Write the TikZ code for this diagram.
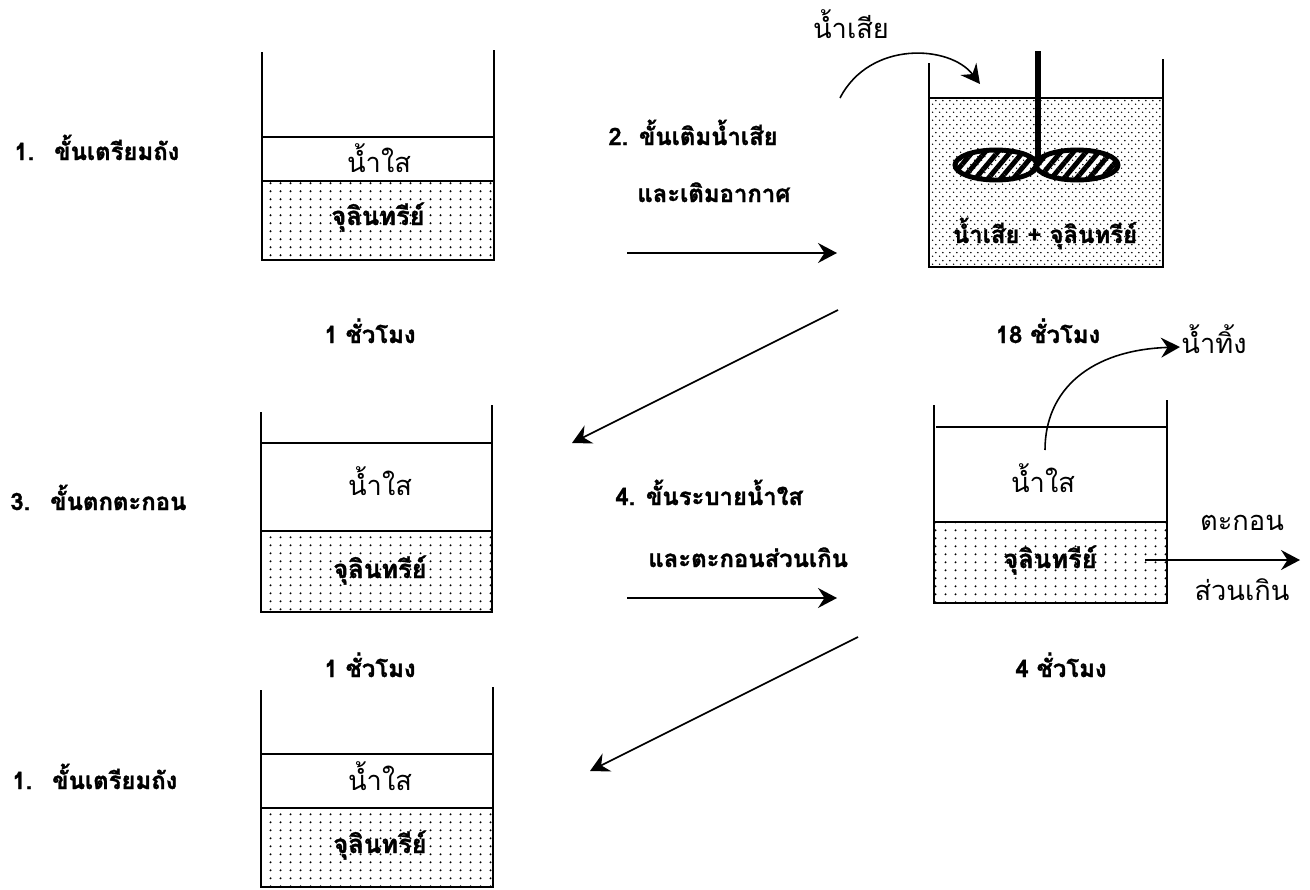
\documentclass[tikz,border=0pt]{standalone}
\usepackage{fontspec}
\setmainfont{Loma}[Script=Thai, BoldFeatures={FakeBold=1.3}]
\usetikzlibrary{arrows.meta,patterns,patterns.meta}

\pgfdeclarepatternformonly{sludgedots}{\pgfpointorigin}{\pgfpoint{1.9mm}{1.54mm}}{\pgfpoint{1.9mm}{1.54mm}}{%
  \pgfpathcircle{\pgfpoint{0.95mm}{0.77mm}}{0.62pt}\pgfusepath{fill}}
\pgfdeclarepatternformonly{mixdots}{\pgfpointorigin}{\pgfpoint{1.34mm}{1.6mm}}{\pgfpoint{1.34mm}{1.6mm}}{%
  \pgfpathcircle{\pgfpoint{0.335mm}{0.4mm}}{0.5pt}%
  \pgfpathcircle{\pgfpoint{1.005mm}{1.2mm}}{0.5pt}\pgfusepath{fill}}

\tikzset{
  wall/.style={line width=1pt},
  layer/.style={line width=1pt},
  sludge/.style={line width=1pt, pattern=sludgedots, pattern color=black},
  mix/.style={pattern=mixdots, pattern color=black},
  arr/.style={line width=0.9pt, -{Stealth[length=3.8mm,width=4mm,inset=1.3mm]}},
  lab/.style={inner sep=0pt, font=\fontsize{13.6}{16}\selectfont\bfseries},
  tlab/.style={inner sep=0pt, font=\fontsize{14.5}{17}\selectfont\bfseries},
  txt/.style={inner sep=0pt, font=\fontsize{15.5}{18}\selectfont},
  paddle/.style={line width=2.8pt, pattern={Lines[angle=50,distance=5.5pt,line width=2.8pt]}}
}

\begin{document}
\begin{tikzpicture}[x=0.2mm, y=-0.2mm]
\useasboundingbox (0,0) rectangle (1310,890);

% ---------- Tank 1 (top left) ----------
\draw[layer] (262,137) rectangle (494,181);
\draw[sludge] (262,181) rectangle (494,260);
\draw[wall] (262,52) -- (262,260) -- (494,260) -- (494,50);
\node[txt, anchor=base] (t1w) at (379,172) {น้ำใส};
\node[tlab, anchor=base] (t1s) at (378,225) {จุลินทรีย์};

% ---------- Tank 2 (top right, mixer) ----------
\path[mix] (929,98) rectangle (1163,267);
\draw[layer] (929,98) -- (1163,98);
\draw[wall] (929,63) -- (929,267) -- (1163,267) -- (1163,59);
\draw[line width=3.8pt] (1038,51) -- (1038,160);
\draw[paddle] (996,165) ellipse [x radius=8.2mm, y radius=3mm];
\draw[paddle] (1077,165) ellipse [x radius=8.2mm, y radius=3mm];
\node[lab, anchor=base] (t2s) at (1045,243) {น้ำเสีย + จุลินทรีย์};

% ---------- Tank 3 (middle left) ----------
\draw[layer] (261,443) rectangle (492,531);
\draw[sludge] (261,531) rectangle (492,612);
\draw[wall] (261,412) -- (261,612) -- (492,612) -- (492,405);
\node[txt, anchor=base] (t3w) at (380,495) {น้ำใส};
\node[tlab, anchor=base] (t3s) at (380,578) {จุลินทรีย์};

% ---------- Tank 4 (middle right) ----------
\draw[layer] (936,427) -- (1167,427);
\draw[sludge] (934,522) rectangle (1167,603);
\draw[wall] (934,405) -- (934,603) -- (1167,603) -- (1167,400);
\node[txt, anchor=base] (t4w) at (1043,492) {น้ำใส};
\node[tlab, anchor=base] (t4s) at (1050,568) {จุลินทรีย์};

% ---------- Tank 5 (bottom left) ----------
\draw[layer] (261,754) rectangle (493,808);
\draw[sludge] (261,808) rectangle (493,887);
\draw[wall] (261,690) -- (261,887) -- (493,887) -- (493,687);
\node[txt, anchor=base] (t5w) at (380,790) {น้ำใส};
\node[tlab, anchor=base] (t5s) at (380,853) {จุลินทรีย์};

% ---------- Step labels ----------
\node[lab, anchor=base west] (s1) at (14,160) {1.\hspace{4mm}ขั้นเตรียมถัง};
\node[lab, anchor=base west] (s3) at (10,510) {3.\hspace{4mm}ขั้นตกตะกอน};
\node[lab, anchor=base west] (s1b) at (12,789) {1.\hspace{4mm}ขั้นเตรียมถัง};

\node[lab, anchor=base west] (s2a) at (608,145) {2. ขั้นเติมน้ำเสีย};
\node[lab, anchor=base west] (s2b) at (637,202) {และเติมอากาศ};
\node[lab, anchor=base west] (s4a) at (615,505) {4. ขั้นระบายน้ำใส};
\node[lab, anchor=base west] (s4b) at (648,567) {และตะกอนส่วนเกิน};

\node[lab, anchor=base] (h1) at (370,343) {1 ชั่วโมง};
\node[lab, anchor=base] (h18) at (1048,343) {18 ชั่วโมง};
\node[lab, anchor=base] (h1b) at (370,677) {1 ชั่วโมง};
\node[lab, anchor=base] (h4) at (1061,677) {4 ชั่วโมง};

\node[txt, anchor=base] (ww) at (851,38) {น้ำเสีย};
\node[txt, anchor=base] (out) at (1214,353) {น้ำทิ้ง};
\node[txt, anchor=base] (ex1) at (1242,530) {ตะกอน};
\node[txt, anchor=base] (ex2) at (1242,600) {ส่วนเกิน};

% ---------- Arrows ----------
\coordinate (a2s) at (627,253);  \coordinate (a2e) at (837,253);
\coordinate (d1s) at (838,310);  \coordinate (d1e) at (572,443);
\coordinate (a4s) at (627,598);  \coordinate (a4e) at (837,598);
\coordinate (d2s) at (858,637);  \coordinate (d2e) at (590,771);
\coordinate (ins) at (840,98);   \coordinate (ine) at (980,84);
\coordinate (ous) at (1045,450); \coordinate (oue) at (1180,347);
\coordinate (exs) at (1145,560); \coordinate (exe) at (1300,560);

\draw[arr] (a2s) -- (a2e);
\draw[arr] (d1s) -- (d1e);
\draw[arr] (a4s) -- (a4e);
\draw[arr] (d2s) -- (d2e);
\draw[arr] (ins) .. controls (870,40) and (950,45) .. (ine);
\draw[arr] (ous) .. controls (1045,390) and (1090,350) .. (oue);
\draw[arr] (exs) -- (exe);
\end{tikzpicture}
\end{document}
